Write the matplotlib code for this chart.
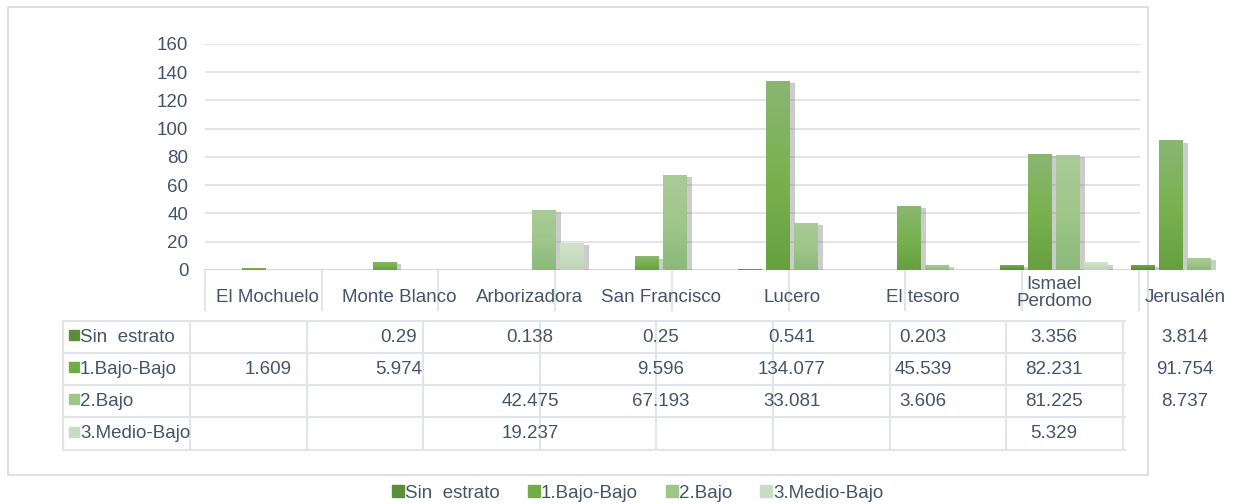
import matplotlib.pyplot as plt
import numpy as np
from matplotlib.lines import Line2D
from matplotlib.patches import Rectangle
from matplotlib.colors import LinearSegmentedColormap
from matplotlib.transforms import blended_transform_factory

plt.rcParams['font.family'] = ['Liberation Sans', 'DejaVu Sans']

barrios = ['El Mochuelo', 'Monte Blanco', 'Arborizadora', 'San Francisco',
           'Lucero', 'El tesoro', 'Ismael\nPerdomo', 'Jerusalén']
series = ['Sin  estrato', '1.Bajo-Bajo', '2.Bajo', '3.Medio-Bajo']
sin_estrato = [None, 0.29, 0.138, 0.25, 0.541, 0.203, 3.356, 3.814]
bajo_bajo = [1.609, 5.974, None, 9.596, 134.077, 45.539, 82.231, 91.754]
bajo = [None, None, 42.475, 67.193, 33.081, 3.606, 81.225, 8.737]
medio_bajo = [None, None, 19.237, None, None, None, 5.329, None]
colores = ['#5b8f37', '#70ad47', '#9dc688', '#c9dcc1']
# bottom -> middle -> top shades for the bar gradient
degradados = [['#558c32', '#649c3e', '#78a85a'],
              ['#67a03f', '#79b24f', '#8ab674'],
              ['#8cb97a', '#a0c68c', '#a9cb98'],
              ['#bdd4b3', '#c9ddc0', '#d2e3cb']]
y_ticks = [0, 20, 40, 60, 80, 100, 120, 140, 160]

datos = [sin_estrato, bajo_bajo, bajo, medio_bajo]
texto = '#44546a'
gris = '#e1e4e9'
fs = 13.5

W, H = 1234, 504
fig = plt.figure(figsize=(W / 100, H / 100), dpi=100)
fig.patch.set_facecolor('white')

# overlay in pixel coords for borders / table lines
ov = fig.add_axes([0, 0, 1, 1])
ov.set_xlim(0, W)
ov.set_ylim(H, 0)
ov.axis('off')

ax = fig.add_axes([205 / W, (H - 270) / H, (W - 205) / W, 226 / H])
xlim = (-0.48, (W - 268) / 131)

x_grid_end = (1140 - 268) / 131
ax.hlines(y_ticks[1:], -0.48, x_grid_end, colors=gris, lw=1.5, zorder=0)
ax.hlines(0, -0.48, x_grid_end, colors='#d5d9df', lw=1.5, zorder=1)

x = np.arange(len(barrios))
ancho = 0.183
paso = 0.214
grad = np.linspace(0, 1, 100).reshape(-1, 1)
for k, (vals, c) in enumerate(zip(datos, colores)):
    pos = x + (k - 1.5) * paso
    h = np.array([v if v is not None else 0 for v in vals])
    ax.bar(pos + 0.035, np.maximum(h - 1.5, 0), width=ancho, color='#6f6f6f',
           alpha=0.35, zorder=2, clip_on=False)
    barras = ax.bar(pos, h, width=ancho, color=c, zorder=3, clip_on=False)
    cmap = LinearSegmentedColormap.from_list(f's{k}', degradados[k])
    for p in barras.patches:
        if p.get_height() <= 0:
            continue
        x0, y0 = p.get_x(), p.get_y()
        im = ax.imshow(grad, extent=[x0, x0 + p.get_width(), y0, y0 + p.get_height()],
                       origin='lower', aspect='auto', cmap=cmap, zorder=3.5,
                       interpolation='bilinear')
        im.set_clip_path(p)

ax.set_xlim(*xlim)
ax.set_ylim(0, 160)
ax.set_yticks(y_ticks)
ax.tick_params(axis='y', length=0, pad=12, labelsize=fs, labelcolor=texto)
ax.set_xticks([])
for s in ax.spines.values():
    s.set_visible(False)
ax.patch.set_alpha(0)

# outer border
ov.add_patch(Rectangle((8, 7), 1140, 468, fill=False, ec='#d9d9d9', lw=1.2))

# header row of category labels
for k in range(9):
    xv = 205 + 116.7 * k
    ov.add_line(Line2D([xv, xv], [270, 310], color=gris, lw=1.5))

tr = blended_transform_factory(ax.transData, ov.transData)
for i, b in enumerate(barrios):
    ax_y = 293 if '\n' in b else 297
    ov.text(i, ax_y, b, transform=tr, ha='center', va='center',
            fontsize=fs, color=texto, linespacing=1.0)

# data table
filas_y = [321, 353, 385, 417, 450]
for yv in filas_y:
    ov.add_line(Line2D([63, 1125], [yv, yv], color=gris, lw=1.5))
ov.add_line(Line2D([63, 63], [321, 450], color=gris, lw=1.5))
for k in range(9):
    xv = 190 + 116.6 * k
    ov.add_line(Line2D([xv, xv], [321, 450], color=gris, lw=1.5))

for r, (nombre, vals, c) in enumerate(zip(series, datos, colores)):
    yc = (filas_y[r] + filas_y[r + 1]) / 2
    ov.add_patch(Rectangle((69, yc - 7), 10, 10, color=c))
    ov.text(80, yc, nombre, ha='left', va='center', fontsize=fs, color=texto)
    for i, v in enumerate(vals):
        if v is None:
            continue
        ov.text(i, yc, f'{v:g}', transform=tr, ha='center', va='center',
                fontsize=fs, color=texto)

# legend
handles = [Line2D([], [], marker='s', ls='', color=c, markersize=8) for c in colores]
fig.legend(handles, series, loc='center', bbox_to_anchor=(638 / W, 1 - 493 / H),
           ncol=4, frameon=False, fontsize=fs, labelcolor=texto,
           handlelength=0.6, handletextpad=0.1, columnspacing=1.5)

fig.savefig('out.png', dpi=100)
